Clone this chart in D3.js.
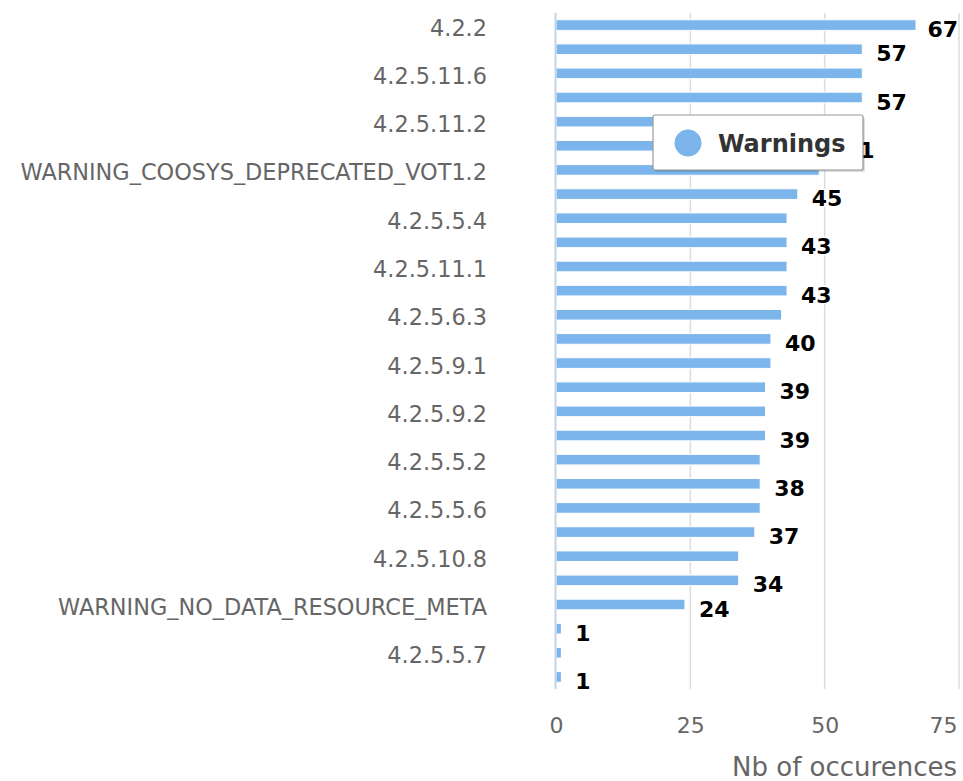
<!DOCTYPE html>
<html>
<head>
<meta charset="utf-8">
<script src="https://cdn.jsdelivr.net/npm/d3@7"></script>
<style>
  html, body { margin: 0; padding: 0; background: #fff; }
  svg { display: block; font-family: "DejaVu Sans", sans-serif; }
</style>
</head>
<body>
<svg id="chart" width="963" height="781"></svg>
<script>
// ---- data ----
const categories = [
  "4.2.2", "4.2.5.11.5", "4.2.5.11.6", "4.2.5.11.7", "4.2.5.11.2", "4.2.5.11.3",
  "WARNING_COOSYS_DEPRECATED_VOT1.2", "4.2.5.5.3", "4.2.5.5.4", "4.2.5.5.5",
  "4.2.5.11.1", "4.2.5.6.2", "4.2.5.6.3", "4.2.5.6.4", "4.2.5.9.1", "4.2.5.9.3",
  "4.2.5.9.2", "4.2.5.9.4", "4.2.5.5.2", "4.2.5.5.1", "4.2.5.5.6", "4.2.5.10.7",
  "4.2.5.10.8", "4.2.5.10.9", "WARNING_NO_DATA_RESOURCE_META", "4.2.5.5.8",
  "4.2.5.5.7", "4.2.5.5.9"
];
const warnings = [67, 57, 57, 57, 54, 51, 49, 45, 43, 43, 43, 43, 42, 40, 40, 39,
  39, 39, 38, 38, 38, 37, 34, 34, 24, 1, 1, 1];
const xTicks = [0, 25, 50, 75];
const seriesName = "Warnings";
const xTitle = "Nb of occurences";

// ---- layout ----
const svg = d3.select("#chart");
const plot = { left: 556, right: 959, top: 13, bottom: 689 };

const x = d3.scaleLinear().domain([0, 75]).range([plot.left, plot.right]);
const y = d3.scaleBand().domain(categories).range([plot.top, plot.bottom])
  .paddingInner(0.56).paddingOuter(0.28);

// grid lines
svg.append("g").selectAll("line").data(xTicks.filter(d => d > 0)).join("line")
  .attr("x1", d => x(d)).attr("x2", d => x(d))
  .attr("y1", plot.top).attr("y2", plot.bottom)
  .attr("stroke", "#dcdcdc").attr("stroke-width", 1.5);

// bars
svg.append("g").selectAll("rect").data(warnings).join("rect")
  .attr("x", x(0))
  .attr("y", (d, i) => y(categories[i]))
  .attr("width", d => x(d) - x(0))
  .attr("height", y.bandwidth())
  .attr("fill", "#7cb5ec")
  .attr("stroke", "#ffffff").attr("stroke-width", 1);

// left axis line
svg.append("line")
  .attr("x1", plot.left - 0.5).attr("x2", plot.left - 0.5)
  .attr("y1", plot.top).attr("y2", plot.bottom)
  .attr("stroke", "#c4d4e6").attr("stroke-width", 2);

// y axis (every other label)
const yAxis = d3.axisLeft(y)
  .tickValues(categories.filter((c, i) => i % 2 === 0))
  .tickSize(0).tickPadding(plot.left - 487);
const gy = svg.append("g").attr("transform", `translate(${plot.left},0)`).call(yAxis);
gy.select(".domain").remove();
gy.selectAll("text")
  .attr("font-family", "DejaVu Sans, sans-serif")
  .attr("font-size", 22.4).attr("fill", "#666666")
  .attr("dy", null).attr("y", 10.5);

// x axis
const xAxis = d3.axisBottom(x).tickValues(xTicks).tickSize(0).tickPadding(28);
const gx = svg.append("g").attr("transform", `translate(0,${plot.bottom})`).call(xAxis);
gx.select(".domain").remove();
gx.selectAll("text")
  .attr("font-family", "DejaVu Sans, sans-serif")
  .attr("font-size", 22).attr("fill", "#666666");
// keep the last tick label inside the chart (justified like the reference)
gx.selectAll(".tick").filter(d => d === xTicks[xTicks.length - 1]).select("text")
  .attr("text-anchor", "end").attr("x", 957 - x(xTicks[xTicks.length - 1]));

// axis title
svg.append("text")
  .attr("x", 957).attr("y", 776)
  .attr("text-anchor", "end")
  .attr("font-size", 26).attr("fill", "#666666")
  .text(xTitle);

// data labels with greedy overlap hiding and justification in plot area
const labelG = svg.append("g");
const shown = [];
warnings.forEach((v, i) => {
  const t = labelG.append("text")
    .attr("y", y(categories[i]) + y.bandwidth() / 2 + 12)
    .attr("font-size", 22).attr("font-weight", "bold")
    .attr("fill", "#000")
    .attr("stroke", "#fff").attr("stroke-width", 3)
    .attr("paint-order", "stroke").attr("stroke-linejoin", "round")
    .text(v);
  const w = t.node().getComputedTextLength();
  let lx = x(v) + 14;
  if (lx + w > plot.right) lx = plot.right - w - 1;
  t.attr("x", lx);
  const box = { x0: lx - 5, x1: lx + w + 5, y0: y(categories[i]) - 8, y1: y(categories[i]) + y.bandwidth() + 8 };
  const hit = shown.some(b => !(box.x1 <= b.x0 || box.x0 >= b.x1 || box.y1 <= b.y0 || box.y0 >= b.y1));
  if (hit) t.remove(); else shown.push(box);
});

// legend
const lg = svg.append("g").attr("transform", "translate(653,115)");
lg.append("rect").attr("x", 2).attr("y", 2).attr("width", 210).attr("height", 55)
  .attr("rx", 2).attr("fill", "#000").attr("opacity", 0.12);
lg.append("rect").attr("x", 1).attr("y", 1).attr("width", 210).attr("height", 55)
  .attr("rx", 2).attr("fill", "#000").attr("opacity", 0.08);
lg.append("rect").attr("x", 0).attr("y", 0).attr("width", 210).attr("height", 55)
  .attr("rx", 2).attr("fill", "#fff").attr("stroke", "#999").attr("stroke-width", 1.2);
lg.append("circle").attr("cx", 35).attr("cy", 28).attr("r", 13.5).attr("fill", "#7cb5ec");
lg.append("text").attr("x", 65).attr("y", 37)
  .attr("font-size", 24).attr("font-weight", "bold").attr("fill", "#333")
  .text(seriesName);
</script>
</body>
</html>
